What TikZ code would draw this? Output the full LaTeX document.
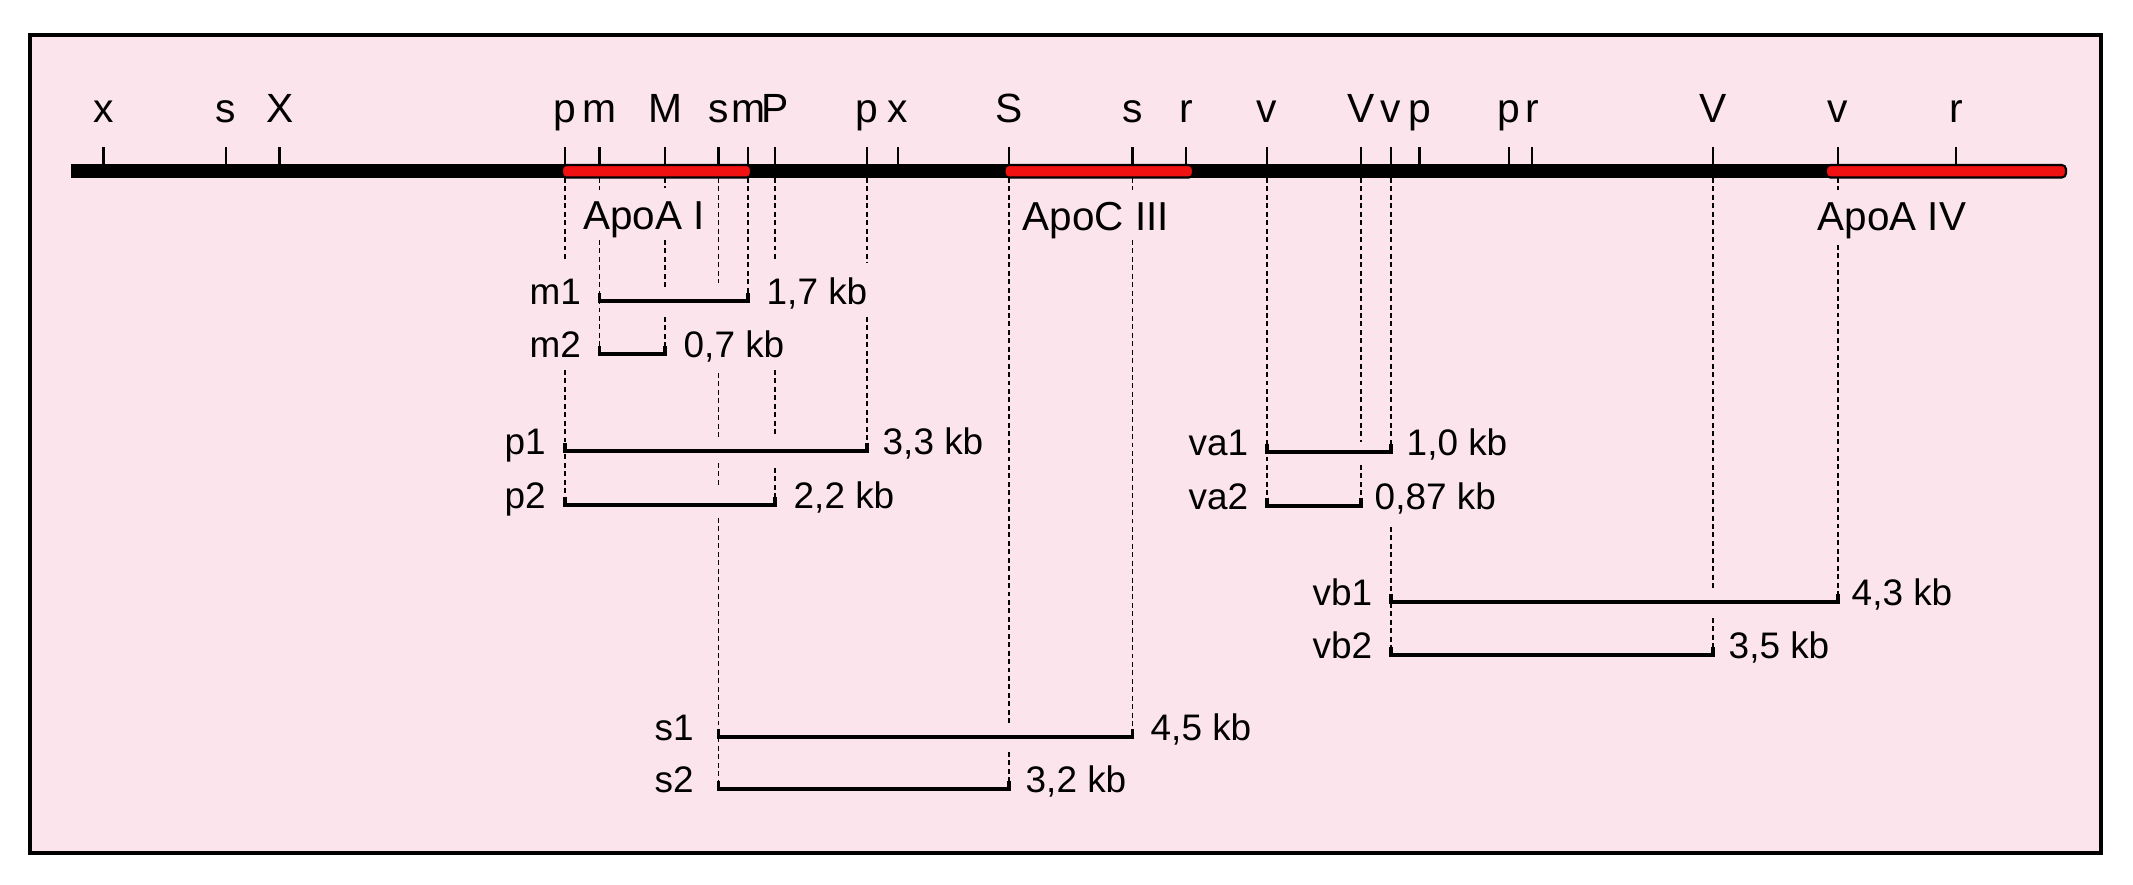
\documentclass[tikz,border=0pt]{standalone}
\usepackage{fontspec}
\setmainfont{Liberation Sans}
\definecolor{bgpink}{RGB}{252,228,236}
\definecolor{genered}{RGB}{240,18,18}
\begin{document}
\begin{tikzpicture}[x=0.01cm,y=-0.01cm,
  sitelbl/.style={font=\fontsize{11.6}{13}\selectfont, anchor=base, inner sep=0pt},
  genelbl/.style={font=\fontsize{11.5}{13}\selectfont, anchor=base, inner sep=0pt},
  fraglbl/.style={font=\fontsize{10.5}{12}\selectfont, anchor=base west, inner sep=0pt},
  fragline/.style={line width=0.95pt},
  guide/.style={line width=0.5pt, dash pattern=on 1.4pt off 1pt},
  tickmark/.style={line width=0.75pt},
  genebox/.style={fill=genered, draw=black, line width=0.6pt, rounded corners=1.2pt}
]
\useasboundingbox (0,0) rectangle (2133,884);
\draw[fill=bgpink, line width=0.9pt] (30,35) rectangle (2101,853);

% main line
\coordinate (mainL) at (71,171);
\coordinate (mainR) at (2060,171);
\draw[line width=3.9pt] (mainL) -- (mainR);

% restriction sites
\foreach \x/\l [count=\i] in {103.6/x, 226/s, 279.6/X, 565/p, 599.5/m, 665/M, 718.5/s, 748/m, 775/P, 867/p, 898/x, 1009/S, 1132.5/s, 1186/r, 1267/v, 1361/V, 1391/v, 1419.5/p, 1509/p, 1532/r, 1713/V, 1838/v, 1956/r}{
  \coordinate (k\i) at (\x,165);
  \draw[tickmark] (\x,147) -- (k\i);
  \node[sitelbl] (site\i) at (\x,122) {\l};
}

% genes
\draw[genebox] (562,165) rectangle (751,177.5);
\draw[genebox] (1004.5,165) rectangle (1193,177.5);
\draw[genebox] (1826,165) rectangle (2066,177.5);
\node[genelbl] (apoai) at (644,229) {ApoA I};
\node[genelbl] (apociii) at (1096,230) {ApoC III};
\node[genelbl] (apoaiv) at (1892,230) {ApoA IV};

% dashed guide lines
\foreach \x/\a/\b in {565/178/260, 565/370/505,
  599.5/178/190, 599.5/240/354,
  665/178/188, 665/240/287, 665/317/354,
  718.5/178/283, 718.5/373/437, 718.5/463/488, 718.5/518/789,
  748/178/301,
  775/178/260, 775/370/437, 775/468/505,
  867/178/263, 867/317/451,
  1009/178/725, 1009/752/789,
  1132.5/178/190, 1132.5/240/737,
  1267/178/506,
  1361/178/442, 1361/465/506,
  1391/178/452, 1391/527/655,
  1713/178/588, 1713/618/655,
  1838/178/190, 1838/245/602}{
  \draw[guide] (\x,\a) -- (\x,\b);
}

% fragments: name / y / x1 / x2 / left label x / left label / right label x / right label
\foreach \n/\y/\xa/\xb/\la/\lt/\ra/\rt in {
  m1/301/599.5/748/529/m1/766/{1,7 kb},
  m2/354/599.5/665/529/m2/683/{0,7 kb},
  p1/451/565/867/504/p1/882/{3,3 kb},
  p2/505/565/775/504/p2/793/{2,2 kb},
  va1/452/1267/1391/1188/va1/1406/{1,0 kb},
  va2/506/1267/1361/1188/va2/1374/{0,87 kb},
  vb1/602/1391/1838/1312/vb1/1851/{4,3 kb},
  vb2/655/1391/1713/1312/vb2/1728/{3,5 kb},
  s1/737/718.5/1132.5/654/s1/1150/{4,5 kb},
  s2/789/718.5/1009/654/s2/1025/{3,2 kb}}{
  \coordinate (\n a) at (\xa,\y);
  \coordinate (\n b) at (\xb,\y);
  \draw[fragline] ([yshift=2.3pt]\n a) -- (\n a) -- (\n b) -- ([yshift=2.3pt]\n b);
  \node[fraglbl] (\n name) at (\la,\y+3) {\lt};
  \node[fraglbl] (\n size) at (\ra,\y+3) {\rt};
}
\end{tikzpicture}
\end{document}
